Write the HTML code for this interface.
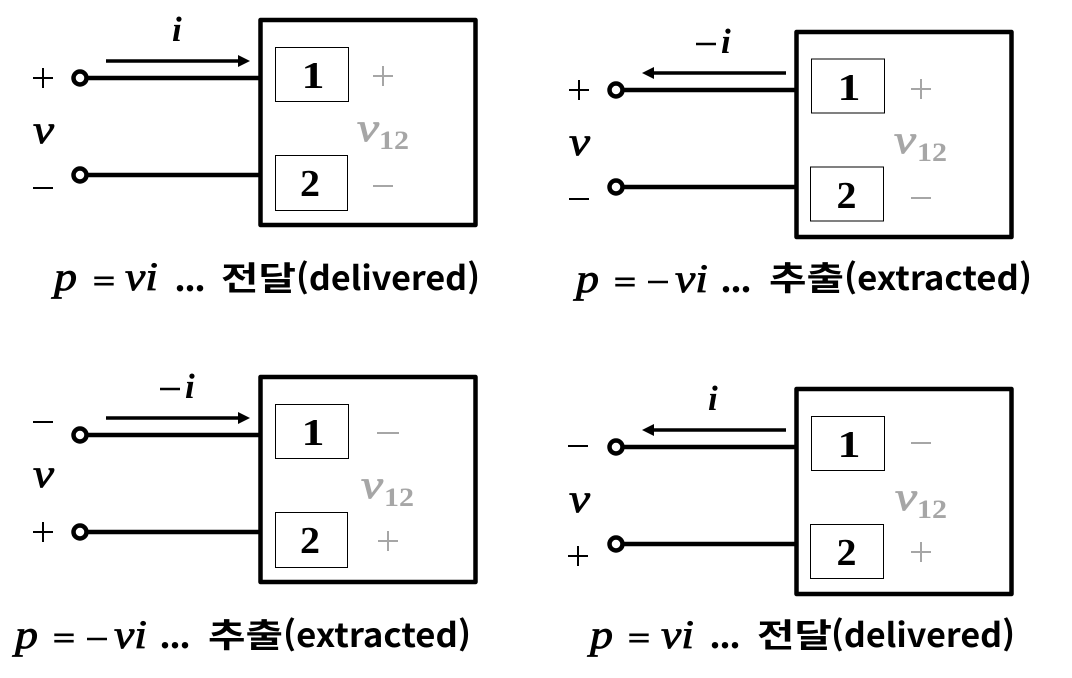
<!DOCTYPE html>
<html lang="ko">
<head>
<meta charset="utf-8">
<style>
html,body{margin:0;padding:0;background:#fff}
svg{display:block}
.m{font-family:"Liberation Serif","DejaVu Serif",serif;font-style:italic;font-weight:normal;fill:#000;stroke:#000;stroke-width:.8;font-size:40px}
.i{font-size:35px;font-weight:bold;stroke:none}
.d{font-family:"Liberation Serif","DejaVu Serif",serif;font-weight:bold;fill:#000}
.n{font-size:38px}
.u{font-size:26px}
.o{font-size:40px}
.s{font-family:"DejaVu Sans","Liberation Sans",sans-serif;font-size:31px;fill:#000}
.m.g{fill:#a6a6a6;stroke:#a6a6a6}
.g{fill:#a6a6a6}
.c{font-family:"Noto Sans CJK KR","NanumGothic",sans-serif;font-weight:bold;font-size:33px;fill:#000}
.box{fill:#fff;stroke:#000;stroke-width:4.5;stroke-linejoin:round}
.in{fill:#fff;stroke:#000;stroke-width:1}
.w{stroke:#000;stroke-width:4.5;fill:none}
.t{fill:#fff;stroke:#000;stroke-width:4.5}
.a{stroke:#000;stroke-width:3.5;fill:none}
</style>
</head>
<body>
<svg width="1072" height="678" viewBox="0 0 1072 678" xmlns="http://www.w3.org/2000/svg">
<rect width="1072" height="678" fill="#fff"/>

<!-- top left -->
<g>
<rect class="box" x="260.5" y="20" width="215" height="205"/>
<rect class="in" x="275.5" y="47.5" width="73" height="54"/>
<rect class="in" x="275.5" y="155.5" width="72" height="55"/>
<line class="w" x1="80" y1="78" x2="260" y2="78"/>
<line class="w" x1="80" y1="175" x2="260" y2="175"/>
<circle class="t" cx="80" cy="78" r="6.5"/>
<circle class="t" cx="80" cy="175" r="6.5"/>
<line class="a" x1="106" y1="61" x2="242" y2="61"/>
<path d="M238 55L250 61L238 67Z"/>
<text class="m i" x="172" y="41">i</text>
<text class="d n" x="301.5" y="88" textLength="23" lengthAdjust="spacingAndGlyphs">1</text>
<text class="d n" x="300" y="196" textLength="20" lengthAdjust="spacingAndGlyphs">2</text>
<path d="M33 78H53M43 68V88M33 188H53" stroke="#000" stroke-width="2" fill="none"/>
<path d="M373 76H393M383 66V86M373 186H393" stroke="#a6a6a6" stroke-width="2" fill="none"/>
<text class="m" x="33" y="143" textLength="21" lengthAdjust="spacingAndGlyphs">v</text>
<text class="m g" x="357" y="141" textLength="22" lengthAdjust="spacingAndGlyphs">v</text>
<text class="d u g" x="379" y="149" textLength="30" lengthAdjust="spacingAndGlyphs">12</text>
<text class="m" x="54" y="290" textLength="23" lengthAdjust="spacingAndGlyphs">p</text>
<text class="s" x="91" y="291">=</text>
<text class="m" x="125" y="290" textLength="33" lengthAdjust="spacingAndGlyphs">vi</text>
<text class="d o" x="175" y="291" textLength="30" lengthAdjust="spacingAndGlyphs">...</text>
<text class="c" x="221" y="290" textLength="75" lengthAdjust="spacingAndGlyphs">전달</text>
<text class="c" x="296" y="290" textLength="184" lengthAdjust="spacingAndGlyphs">(delivered)</text>
</g>

<!-- top right -->
<g>
<rect class="box" x="796.5" y="32" width="215" height="205"/>
<rect class="in" x="811.5" y="59" width="73" height="54"/>
<rect class="in" x="810.5" y="167" width="73" height="54"/>
<line class="w" x1="616" y1="90" x2="796" y2="90"/>
<line class="w" x1="616" y1="187" x2="796" y2="187"/>
<circle class="t" cx="616" cy="90" r="6.5"/>
<circle class="t" cx="616" cy="187" r="6.5"/>
<line class="a" x1="786" y1="73" x2="650" y2="73"/>
<path d="M654 67L642 73L654 79Z"/>
<path d="M696 44H716" stroke="#000" stroke-width="2.5" fill="none"/>
<text class="m i" x="721" y="53">i</text>
<text class="d n" x="837.5" y="100" textLength="23" lengthAdjust="spacingAndGlyphs">1</text>
<text class="d n" x="836.5" y="208" textLength="20" lengthAdjust="spacingAndGlyphs">2</text>
<path d="M569 90H589M579 80V100M569 199H589" stroke="#000" stroke-width="2" fill="none"/>
<path d="M911 89H931M921 79V99M911 198H931" stroke="#a6a6a6" stroke-width="2" fill="none"/>
<text class="m" x="569" y="155" textLength="21" lengthAdjust="spacingAndGlyphs">v</text>
<text class="m g" x="894" y="153" textLength="22" lengthAdjust="spacingAndGlyphs">v</text>
<text class="d u g" x="917" y="161" textLength="30" lengthAdjust="spacingAndGlyphs">12</text>
<text class="m" x="576" y="292" textLength="23" lengthAdjust="spacingAndGlyphs">p</text>
<text class="s" x="612" y="292">=</text>
<path d="M648 282H668" stroke="#000" stroke-width="2.5" fill="none"/>
<text class="m" x="675" y="292" textLength="33" lengthAdjust="spacingAndGlyphs">vi</text>
<text class="d o" x="721" y="292" textLength="30" lengthAdjust="spacingAndGlyphs">...</text>
<text class="c" x="769" y="290" textLength="75" lengthAdjust="spacingAndGlyphs">추출</text>
<text class="c" x="844" y="290" textLength="188" lengthAdjust="spacingAndGlyphs">(extracted)</text>
</g>

<!-- bottom left -->
<g>
<rect class="box" x="260.5" y="377" width="215" height="205"/>
<rect class="in" x="275.5" y="404.5" width="73" height="54"/>
<rect class="in" x="275.5" y="512.5" width="72" height="55"/>
<line class="w" x1="80" y1="435" x2="260" y2="435"/>
<line class="w" x1="80" y1="532" x2="260" y2="532"/>
<circle class="t" cx="80" cy="435" r="6.5"/>
<circle class="t" cx="80" cy="532" r="6.5"/>
<line class="a" x1="106" y1="418" x2="242" y2="418"/>
<path d="M238 412L250 418L238 424Z"/>
<path d="M160 389H180" stroke="#000" stroke-width="2.5" fill="none"/>
<text class="m i" x="185" y="398">i</text>
<text class="d n" x="301.5" y="445" textLength="23" lengthAdjust="spacingAndGlyphs">1</text>
<text class="d n" x="300" y="553" textLength="20" lengthAdjust="spacingAndGlyphs">2</text>
<path d="M33 422H53M33 532H53M43 522V542" stroke="#000" stroke-width="2" fill="none"/>
<path d="M377 433H399M378 541H398M388 531V551" stroke="#a6a6a6" stroke-width="2" fill="none"/>
<text class="m" x="33" y="487" textLength="21" lengthAdjust="spacingAndGlyphs">v</text>
<text class="m g" x="361" y="498" textLength="22" lengthAdjust="spacingAndGlyphs">v</text>
<text class="d u g" x="384" y="506" textLength="30" lengthAdjust="spacingAndGlyphs">12</text>
<text class="m" x="15" y="648" textLength="23" lengthAdjust="spacingAndGlyphs">p</text>
<text class="s" x="51" y="648">=</text>
<path d="M87 639H107" stroke="#000" stroke-width="2.5" fill="none"/>
<text class="m" x="114" y="648" textLength="33" lengthAdjust="spacingAndGlyphs">vi</text>
<text class="d o" x="160" y="648" textLength="30" lengthAdjust="spacingAndGlyphs">...</text>
<text class="c" x="208" y="647" textLength="75" lengthAdjust="spacingAndGlyphs">추출</text>
<text class="c" x="283" y="647" textLength="188" lengthAdjust="spacingAndGlyphs">(extracted)</text>
</g>

<!-- bottom right -->
<g>
<rect class="box" x="796.5" y="389" width="215" height="205"/>
<rect class="in" x="811.5" y="416.5" width="73" height="54"/>
<rect class="in" x="810.5" y="524.5" width="73" height="54"/>
<line class="w" x1="616" y1="447" x2="796" y2="447"/>
<line class="w" x1="616" y1="544" x2="796" y2="544"/>
<circle class="t" cx="616" cy="447" r="6.5"/>
<circle class="t" cx="616" cy="544" r="6.5"/>
<line class="a" x1="786" y1="430" x2="650" y2="430"/>
<path d="M654 424L642 430L654 436Z"/>
<text class="m i" x="708" y="410">i</text>
<text class="d n" x="837.5" y="457" textLength="23" lengthAdjust="spacingAndGlyphs">1</text>
<text class="d n" x="836.5" y="565" textLength="20" lengthAdjust="spacingAndGlyphs">2</text>
<path d="M568 446H588M568 556H588M578 546V566" stroke="#000" stroke-width="2" fill="none"/>
<path d="M911 443H931M911 552H931M921 542V562" stroke="#a6a6a6" stroke-width="2" fill="none"/>
<text class="m" x="569" y="512" textLength="21" lengthAdjust="spacingAndGlyphs">v</text>
<text class="m g" x="895" y="510" textLength="22" lengthAdjust="spacingAndGlyphs">v</text>
<text class="d u g" x="917" y="518" textLength="30" lengthAdjust="spacingAndGlyphs">12</text>
<text class="m" x="590" y="648" textLength="23" lengthAdjust="spacingAndGlyphs">p</text>
<text class="s" x="626" y="648">=</text>
<text class="m" x="661" y="648" textLength="33" lengthAdjust="spacingAndGlyphs">vi</text>
<text class="d o" x="710" y="648" textLength="30" lengthAdjust="spacingAndGlyphs">...</text>
<text class="c" x="757" y="647" textLength="75" lengthAdjust="spacingAndGlyphs">전달</text>
<text class="c" x="831" y="647" textLength="184" lengthAdjust="spacingAndGlyphs">(delivered)</text>
</g>
</svg>
</body>
</html>
